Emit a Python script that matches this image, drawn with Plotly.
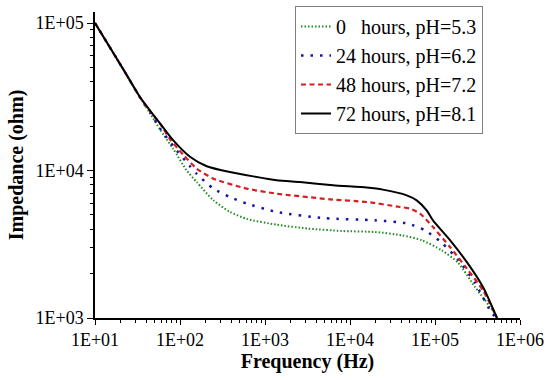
import plotly.graph_objects as go

# ---- data ----
names = ["0\u00a0\u00a0\u00a0hours, pH=5.3", "24 hours, pH=6.2", "48 hours, pH=7.2", "72 hours, pH=8.1"]

f_0h = [10, 22.5, 33.8, 44.4, 58.2, 83.4, 120, 157, 247, 387, 610, 1370, 3210, 7980, 19700, 40600, 69800, 120000, 187000, 296000, 508000, 540000]
z_0h = [100000, 46500, 31300, 24500, 19000, 14000, 10000, 8360, 6280, 5240, 4700, 4290, 4040, 3890, 3830, 3640, 3370, 2880, 2370, 1620, 1070, 1000]

f_24h = [10, 22.5, 33.8, 44.4, 58.2, 83.4, 131, 157, 247, 387, 610, 1370, 5080, 19700, 48100, 76200, 120000, 187000, 296000, 465000, 540000]
z_24h = [100000, 46500, 31300, 24800, 19300, 14600, 10700, 9500, 7540, 6610, 5970, 5240, 4750, 4600, 4370, 3930, 3240, 2480, 1730, 1080, 1000]

f_48h = [10, 22.5, 33.8, 44.4, 58.2, 76.3, 109, 157, 247, 610, 1370, 5820, 15700, 38700, 50800, 66600, 94700, 150000, 236000, 367000, 536000]
z_48h = [100000, 46500, 31400, 25300, 20800, 16300, 12800, 10300, 8810, 7540, 6970, 6380, 6120, 5660, 5520, 5110, 4140, 3030, 2170, 1540, 1000]

f_72h = [10, 22.5, 33.8, 44.4, 58.2, 83.4, 131, 206, 387, 1370, 2580, 6310, 15700, 24400, 46500, 60900, 79800, 94700, 150000, 236000, 367000, 536000]
z_72h = [100000, 46500, 31500, 25500, 20900, 16000, 12400, 10700, 9770, 8590, 8350, 7940, 7660, 7420, 6790, 6280, 5370, 4590, 3370, 2400, 1620, 1000]

x_tickvals = [1e1, 1e2, 1e3, 1e4, 1e5, 1e6]
x_ticktext = ["1E+01", "1E+02", "1E+03", "1E+04", "1E+05", "1E+06"]
y_tickvals = [1e3, 1e4, 1e5]
y_ticktext = ["1E+03", "1E+04", "1E+05"]

series = [
    (f_0h, z_0h, "#1e8c1e", "1.5px,2px", 2),
    (f_24h, z_24h, "#1414a8", "2.5px,7px", 2.5),
    (f_48h, z_48h, "#d42020", "5px,3.5px", 2.2),
    (f_72h, z_72h, "#000000", "solid", 2),
]

fig = go.Figure()
for (fx, zy, col, dash, w), nm in zip(series, names):
    fig.add_trace(go.Scatter(
        x=fx, y=zy, mode="lines", name=nm,
        line=dict(color=col, dash=dash, width=w, shape="spline", smoothing=0.6),
    ))

font_family = "Times New Roman, Liberation Serif, Tinos, DejaVu Serif, serif"

fig.update_layout(
    width=550, height=380,
    margin=dict(l=95, r=30, t=12, b=62, autoexpand=False),
    paper_bgcolor="white", plot_bgcolor="white",
    font=dict(family=font_family, color="black", size=18),
    showlegend=True,
    legend=dict(
        xref="container", yref="container",
        x=295 / 550, y=1 - 6 / 380, xanchor="left", yanchor="top",
        bgcolor="white", bordercolor="#808080", borderwidth=1,
        font=dict(family=font_family, size=20, color="black"),
        tracegroupgap=0,
    ),
)

fig.update_xaxes(
    type="log", range=[1, 6], automargin=False,
    tickvals=x_tickvals, ticktext=x_ticktext,
    ticks="outside", ticklen=5, tickwidth=1, tickcolor="black",
    minor=dict(ticks="outside", ticklen=3, tickwidth=1, tickcolor="black", dtick="D1", showgrid=False),
    showline=True, linecolor="black", linewidth=1.5,
    showgrid=False, zeroline=False,
    tickfont=dict(family=font_family, size=18, color="black"),
    title=dict(text="<b>Frequency (Hz)</b>", font=dict(family=font_family, size=20, color="black"), standoff=4),
)
fig.update_yaxes(
    type="log", range=[3, 5.075], automargin=False,
    tickvals=y_tickvals, ticktext=y_ticktext,
    ticks="outside", ticklen=6, tickwidth=1, tickcolor="black",
    minor=dict(ticks="outside", ticklen=3, tickwidth=1, tickcolor="black", dtick="D1", showgrid=False),
    showline=True, linecolor="black", linewidth=1.5,
    showgrid=False, zeroline=False,
    tickfont=dict(family=font_family, size=18, color="black"),
    title=dict(text="<b>Impedance (ohm)</b>", font=dict(family=font_family, size=20, color="black"), standoff=6),
)

fig.write_html(
    "out.html",
    config={"displayModeBar": False},
    post_script="document.body.style.margin='0';document.body.style.padding='0';",
)
